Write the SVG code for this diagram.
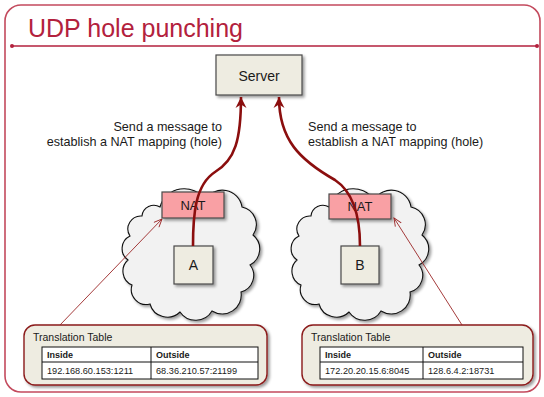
<svg xmlns="http://www.w3.org/2000/svg" width="544" height="397" viewBox="0 0 544 397">
  <style>
    text { font-family: "Liberation Sans", Arial, sans-serif; fill: #1a1a1a; }
    .title { font-size: 25px; fill: #b3213d; }
    .label { font-size: 12.6px; }
    .node { fill: #eeece1; stroke: #4a4a4a; stroke-width: 1.2; }
    .nat { fill: #f9a0a4; stroke: #4a4a4a; stroke-width: 1.2; }
    .cloud { fill: #f2f2f2; stroke: #111; stroke-width: 1.1; }
    .ntext { font-size: 14px; text-anchor: middle; }
    .tbox { fill: #eeece1; stroke: #8b1a1a; stroke-width: 1.4; }
    .grid { fill: #fff; stroke: #111; stroke-width: 1; }
    .th { font-size: 9px; font-weight: bold; }
    .td { font-size: 9.2px; }
    .ttitle { font-size: 10.5px; }
    .punch { fill: none; stroke: #8b0e0e; stroke-width: 2.6; marker-end: url(#bigHead); }
    .ref { fill: none; stroke: #9b2626; stroke-width: 0.9; marker-end: url(#smallHead); }
  </style>
  <defs>
    <filter id="shadow" x="-20%" y="-20%" width="150%" height="150%">
      <feGaussianBlur in="SourceAlpha" stdDeviation="1.5"/>
      <feOffset dx="1.5" dy="2" result="b"/>
      <feComponentTransfer><feFuncA type="linear" slope="0.4"/></feComponentTransfer>
      <feMerge><feMergeNode/><feMergeNode in="SourceGraphic"/></feMerge>
    </filter>
    <marker id="bigHead" markerUnits="userSpaceOnUse" markerWidth="12" markerHeight="12" viewBox="0 0 12 12" refX="11" refY="6" orient="auto">
      <path d="M0,0.5 L11,6 L0,11.5 L3.5,6 Z" fill="#8b0e0e"/>
    </marker>
    <marker id="smallHead" markerUnits="userSpaceOnUse" markerWidth="10" markerHeight="10" viewBox="0 0 10 10" refX="9" refY="5" orient="auto">
      <path d="M1,1.5 L9,5 L1,8.5" fill="none" stroke="#9b2626" stroke-width="0.9"/>
    </marker>
    <path id="cloudShape" d="M160,207 A25,25 0 0 1 205,200 A20,20 0 0 1 242,207 A18,18 0 0 1 253,235 A18,18 0 0 1 250,265 A17,17 0 0 1 241,292 A19,19 0 0 1 212,311 A19,19 0 0 1 180,312 A18,18 0 0 1 150,304 A15,15 0 0 1 132,285 A15,15 0 0 1 128,260 A14,14 0 0 1 130,236 A13,13 0 0 1 142,216 A12,12 0 0 1 160,207 Z"/>
  </defs>

  <!-- slide frame and heading -->
  <g id="frame">
    <rect x="5" y="5" width="535" height="387" rx="16" fill="#fff" stroke="#c34a5d" stroke-width="1.6"/>
    <text class="title" x="28" y="37">UDP hole punching</text>
    <line x1="12" y1="46" x2="537" y2="46" stroke="#b3213d" stroke-width="1.4"/>
    <circle cx="12" cy="46" r="2" fill="#b3213d"/>
    <circle cx="537" cy="46" r="2" fill="#b3213d"/>
  </g>

  <!-- private networks -->
  <g id="cloudA">
    <use href="#cloudShape" class="cloud" filter="url(#shadow)"/>
  </g>
  <g id="cloudB">
    <use href="#cloudShape" class="cloud" transform="translate(169,0)" filter="url(#shadow)"/>
  </g>

  <g id="server">
    <rect class="node" x="216" y="55" width="86" height="40" filter="url(#shadow)"/>
    <text class="ntext" x="259" y="81">Server</text>
  </g>

  <g id="natA">
    <rect class="nat" x="162" y="192" width="62" height="26" filter="url(#shadow)"/>
    <text class="ntext" x="193" y="210" style="font-size:13px">NAT</text>
  </g>
  <g id="natB">
    <rect class="nat" x="329" y="194" width="62" height="25" filter="url(#shadow)"/>
    <text class="ntext" x="360" y="211" style="font-size:13px">NAT</text>
  </g>

  <g id="hostA">
    <rect class="node" x="174" y="246" width="39" height="38" filter="url(#shadow)"/>
    <text class="ntext" x="193.5" y="270">A</text>
  </g>
  <g id="hostB">
    <rect class="node" x="341" y="246" width="38" height="38" filter="url(#shadow)"/>
    <text class="ntext" x="360" y="270">B</text>
  </g>

  <g id="labelA">
    <text class="label" x="222" y="131" text-anchor="end">Send a message to</text>
    <text class="label" x="222" y="146" text-anchor="end">establish a NAT mapping (hole)</text>
  </g>
  <g id="labelB">
    <text class="label" x="308" y="131">Send a message to</text>
    <text class="label" x="308" y="146">establish a NAT mapping (hole)</text>
  </g>

  <g id="tableA">
    <rect class="tbox" x="24" y="325" width="243" height="60" rx="11" filter="url(#shadow)"/>
    <text class="ttitle" x="33" y="341">Translation Table</text>
    <rect class="grid" x="42" y="347" width="216" height="32"/>
    <line x1="42" y1="362" x2="258" y2="362" stroke="#111"/>
    <line x1="151" y1="347" x2="151" y2="379" stroke="#111"/>
    <text class="th" x="47" y="358">Inside</text>
    <text class="th" x="156" y="358">Outside</text>
    <text class="td" x="47" y="374">192.168.60.153:1211</text>
    <text class="td" x="156" y="374">68.36.210.57:21199</text>
  </g>

  <g id="tableB">
    <rect class="tbox" x="302" y="325" width="231" height="60" rx="11" filter="url(#shadow)"/>
    <text class="ttitle" x="311" y="341">Translation Table</text>
    <rect class="grid" x="320" y="347" width="203" height="32"/>
    <line x1="320" y1="362" x2="523" y2="362" stroke="#111"/>
    <line x1="423" y1="347" x2="423" y2="379" stroke="#111"/>
    <text class="th" x="325" y="358">Inside</text>
    <text class="th" x="428" y="358">Outside</text>
    <text class="td" x="325" y="374">172.20.20.15.6:8045</text>
    <text class="td" x="428" y="374">128.6.4.2:18731</text>
  </g>

  <g id="connectors">
    <path class="punch" d="M193,246 C193,215 195,185 215,172 C235,160 241,140 241,97"/>
    <path class="punch" d="M360,246 C360,215 353,192 335,180 C300,160 279,140 279,97"/>
    <path class="ref" d="M60,325 L162,219"/>
    <path class="ref" d="M462,325 L394,218"/>
  </g>
</svg>
